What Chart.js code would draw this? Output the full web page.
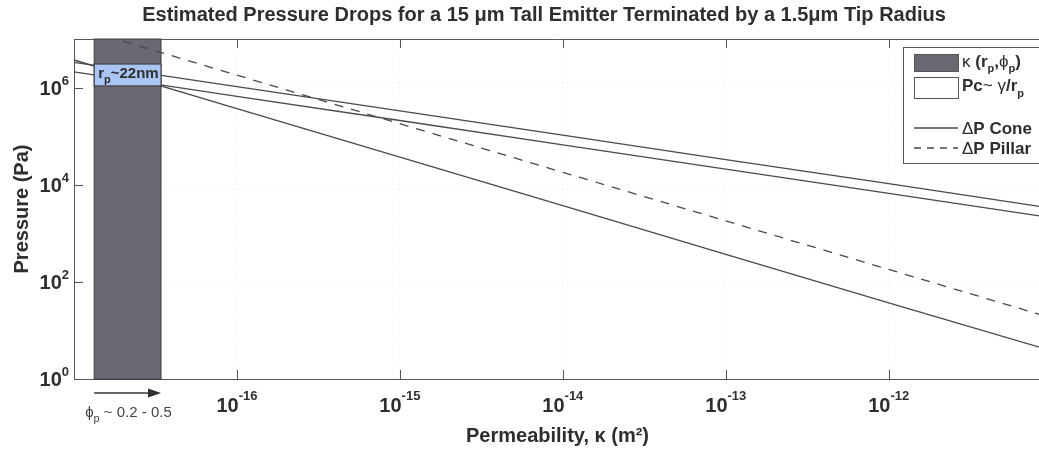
<!DOCTYPE html>
<html lang="en">
<head>
<meta charset="UTF-8">
<title>Estimated Pressure Drops</title>
<script src="https://cdn.jsdelivr.net/npm/chart.js@4.4.0/dist/chart.umd.min.js"></script>
<style>
    body { margin: 0; overflow: hidden; background: #fff; }
    #wrap { width: 1045px; height: 450px; }
</style>
</head>
<body>
<div id="wrap"><canvas id="drops"></canvas></div>

<script>
    const kappa = [1e-17, 1e-16, 1e-15, 1e-14, 1e-13, 1e-12, 8.6e-12];
    // pressures (Pa)
    const pcUpper = [3.3e6, 1.05e6, 3.3e5, 1.05e5, 3.3e4, 1.05e4, 3.55e3];
    const pcLower = [2.1e6, 6.6e5, 2.1e5, 6.6e4, 2.1e4, 6.6e3, 2.25e3];
    const dpCone = [3.7e6, 3.7e5, 3.7e4, 3.7e3, 370, 37, 4.4];
    const dpPillar = [1.8e7, 1.8e6, 1.8e5, 1.8e4, 1.8e3, 180, 21];

    // shaded regions
    const poreBand = [1.33e-17, 3.42e-17];   // kappa(r_p, phi_p)
    const pcBand = [1.08e6, 3.05e6];         // Pc for r_p ~ 22nm

    const xRange = [1e-17, 8.6e-12];
    const yRange = [1, 1e7];
    const xTickExp = [-16, -15, -14, -13, -12];
    const yTickExp = [0, 2, 4, 6];

    const FONT = '"Liberation Sans", Arial, Helvetica, sans-serif';
    const INK = '#2e2e2e';
    const LINE = '#4a4a4a';

    function pts(ys) {
        return kappa.map((k, i) => ({ x: k, y: ys[i] }));
    }

    // draws a row of text pieces, each {t, f, dy}
    function drawRich(ctx, parts, x, y, align) {
        let w = 0;
        parts.forEach(p => { ctx.font = p.f; w += ctx.measureText(p.t).width; });
        let cx = x;
        if (align == 'center') cx = x - w / 2;
        if (align == 'right') cx = x - w;
        parts.forEach(p => {
            ctx.font = p.f;
            ctx.fillText(p.t, cx, y + (p.dy || 0));
            cx += ctx.measureText(p.t).width;
        });
    }

    const bold = s => 'bold ' + s + 'px ' + FONT;
    const reg = s => s + 'px ' + FONT;

    const extras = {
        id: 'extras',
        beforeDatasetsDraw(chart) {
            const { ctx, chartArea: a, scales: { x, y } } = chart;
            const x1 = x.getPixelForValue(poreBand[0]);
            const x2 = x.getPixelForValue(poreBand[1]);
            ctx.save();
            ctx.fillStyle = '#6b6873';
            ctx.fillRect(x1, a.top, x2 - x1, a.bottom - a.top);
            ctx.strokeStyle = '#3c3c3c';
            ctx.lineWidth = 1;
            ctx.strokeRect(x1, a.top, x2 - x1, a.bottom - a.top);
            ctx.restore();
        },
        afterDatasetsDraw(chart) {
            const { ctx, chartArea: a, scales: { x, y } } = chart;
            ctx.save();
            // blue capillary box on top of the lines
            const x1 = x.getPixelForValue(poreBand[0]);
            const x2 = x.getPixelForValue(poreBand[1]);
            const y1 = y.getPixelForValue(pcBand[1]);
            const y2 = y.getPixelForValue(pcBand[0]);
            ctx.fillStyle = '#a9c5f4';
            ctx.fillRect(x1, y1, x2 - x1, y2 - y1);
            ctx.strokeStyle = '#333';
            ctx.lineWidth = 1;
            ctx.strokeRect(x1, y1, x2 - x1, y2 - y1);
            ctx.fillStyle = INK;
            ctx.textBaseline = 'alphabetic';
            drawRich(ctx, [
                { t: 'r', f: bold(15) },
                { t: 'p', f: bold(11), dy: 5 },
                { t: '~22nm', f: bold(15) }
            ], x1 + 4, y1 + 14, 'left');

            // top frame and inward ticks
            ctx.strokeStyle = '#555';
            ctx.beginPath();
            ctx.moveTo(a.left, a.top + 0.5);
            ctx.lineTo(a.right, a.top + 0.5);
            xTickExp.forEach(e => {
                const px = Math.round(x.getPixelForValue(10 ** e)) + 0.5;
                ctx.moveTo(px, a.bottom);
                ctx.lineTo(px, a.bottom - 9);
                ctx.moveTo(px, a.top);
                ctx.lineTo(px, a.top + 9);
            });
            yTickExp.forEach(e => {
                const py = Math.round(y.getPixelForValue(10 ** e)) + 0.5;
                ctx.moveTo(a.left, py);
                ctx.lineTo(a.left + 9, py);
            });
            ctx.stroke();
            ctx.restore();
        },
        afterDraw(chart) {
            const { ctx, chartArea: a, scales: { x, y } } = chart;
            ctx.save();
            ctx.fillStyle = INK;
            ctx.textBaseline = 'alphabetic';

            // title
            drawRich(ctx, [{ t: 'Estimated Pressure Drops for a 15 \u03bcm Tall Emitter Terminated by a 1.5\u03bcm Tip Radius', f: bold(20) }],
                544, 21, 'center');

            // tick labels 10^n
            xTickExp.forEach(e => {
                const px = x.getPixelForValue(10 ** e);
                drawRich(ctx, [
                    { t: '10', f: bold(20) },
                    { t: String(e), f: bold(13), dy: -12 }
                ], px, a.bottom + 33, 'center');
            });
            yTickExp.forEach(e => {
                const py = y.getPixelForValue(10 ** e);
                drawRich(ctx, [
                    { t: '10', f: bold(20) },
                    { t: String(e), f: bold(13), dy: -10 }
                ], a.left - 5, py + 7, 'right');
            });

            // porosity arrow under the axis
            const x1 = x.getPixelForValue(poreBand[0]);
            const x2 = x.getPixelForValue(poreBand[1]);
            const ay = a.bottom + 14;
            ctx.strokeStyle = '#333';
            ctx.lineWidth = 1.5;
            ctx.beginPath();
            ctx.moveTo(x1, ay);
            ctx.lineTo(x2 - 8, ay);
            ctx.stroke();
            ctx.beginPath();
            ctx.moveTo(x2, ay);
            ctx.lineTo(x2 - 13, ay - 4.5);
            ctx.lineTo(x2 - 13, ay + 4.5);
            ctx.closePath();
            ctx.fill();
            ctx.fillStyle = '#444';
            drawRich(ctx, [
                { t: '\u03d5', f: reg(15) },
                { t: 'p', f: reg(11), dy: 5 },
                { t: ' ~ 0.2 - 0.5', f: reg(15) }
            ], x1 - 9, a.bottom + 38, 'left');

            // legend
            const lx = 903, ly = 47;
            ctx.fillStyle = '#fff';
            ctx.fillRect(lx, ly, 160, 116);
            ctx.strokeStyle = '#555';
            ctx.lineWidth = 1;
            ctx.strokeRect(lx + 0.5, ly + 0.5, 160, 116);
            const sx = lx + 11, sw = 44;
            ctx.fillStyle = '#6b6873';
            ctx.fillRect(sx, ly + 7, sw, 17);
            ctx.strokeRect(sx + 0.5, ly + 7.5, sw, 17);
            ctx.strokeRect(sx + 0.5, ly + 30.5, sw, 21);
            ctx.strokeStyle = LINE;
            ctx.lineWidth = 1.3;
            ctx.beginPath();
            ctx.moveTo(sx, ly + 81);
            ctx.lineTo(sx + sw, ly + 81);
            ctx.stroke();
            ctx.setLineDash([7, 6]);
            ctx.beginPath();
            ctx.moveTo(sx, ly + 101);
            ctx.lineTo(sx + sw, ly + 101);
            ctx.stroke();
            ctx.setLineDash([]);

            ctx.fillStyle = INK;
            const tx = sx + sw + 4;
            drawRich(ctx, [
                { t: '\u03ba', f: reg(17) },
                { t: ' (r', f: bold(17) },
                { t: 'p', f: bold(11), dy: 5 },
                { t: ',', f: bold(17) },
                { t: '\u03d5', f: reg(17) },
                { t: 'p', f: bold(11), dy: 5 },
                { t: ')', f: bold(17) }
            ], tx, ly + 20, 'left');
            drawRich(ctx, [
                { t: 'Pc', f: bold(17) },
                { t: '~ \u03b3', f: reg(17) },
                { t: '/r', f: bold(17) },
                { t: 'p', f: bold(11), dy: 6 }
            ], tx, ly + 44, 'left');
            drawRich(ctx, [
                { t: '\u0394', f: reg(17) },
                { t: 'P Cone', f: bold(17) }
            ], tx, ly + 87, 'left');
            drawRich(ctx, [
                { t: '\u0394', f: reg(17) },
                { t: 'P Pillar', f: bold(17) }
            ], tx, ly + 107, 'left');
            ctx.restore();
        }
    };

    const lineStyle = {
        borderColor: LINE,
        borderWidth: 1.3,
        pointRadius: 0,
        tension: 0,
        fill: false
    };

    const ctx = document.getElementById('drops').getContext('2d');
    const myChart = new Chart(ctx, {
        type: 'line',
        data: {
            datasets: [
                { label: 'Pc upper', data: pts(pcUpper), ...lineStyle },
                { label: 'Pc lower', data: pts(pcLower), ...lineStyle },
                { label: '\u0394P Cone', data: pts(dpCone), ...lineStyle },
                { label: '\u0394P Pillar', data: pts(dpPillar), ...lineStyle, borderDash: [9, 8] }
            ]
        },
        options: {
            responsive: true,
            maintainAspectRatio: false,
            animation: false,
            layout: { padding: { top: 39, right: 4, left: 0, bottom: 0 } },
            plugins: {
                legend: { display: false },
                tooltip: { enabled: false },
                title: { display: false }
            },
            scales: {
                x: {
                    type: 'logarithmic',
                    min: xRange[0],
                    max: xRange[1],
                    afterBuildTicks: s => { s.ticks = xTickExp.map(e => ({ value: 10 ** e })); },
                    afterFit: s => { s.height = 71; },
                    ticks: { display: false },
                    grid: { color: 'rgba(0,0,0,0.05)', drawTicks: false },
                    border: { display: true, color: '#555', width: 1, dash: [2, 4] },
                    title: {
                        display: true,
                        text: 'Permeability, \u03ba (m\u00b2)',
                        color: INK,
                        font: { family: FONT, size: 20, weight: 'bold' },
                        padding: { top: 0, bottom: 2 }
                    }
                },
                y: {
                    type: 'logarithmic',
                    min: yRange[0],
                    max: yRange[1],
                    afterBuildTicks: s => { s.ticks = yTickExp.map(e => ({ value: 10 ** e })); },
                    afterFit: s => { s.width = 74; },
                    ticks: { display: false },
                    grid: { color: 'rgba(0,0,0,0.05)', drawTicks: false },
                    border: { display: true, color: '#555', width: 1, dash: [2, 4] },
                    title: {
                        display: true,
                        text: 'Pressure (Pa)',
                        color: INK,
                        font: { family: FONT, size: 20, weight: 'bold' },
                        padding: { top: 10, bottom: 0 }
                    }
                }
            }
        },
        plugins: [extras]
    });
</script>
</body>
</html>
